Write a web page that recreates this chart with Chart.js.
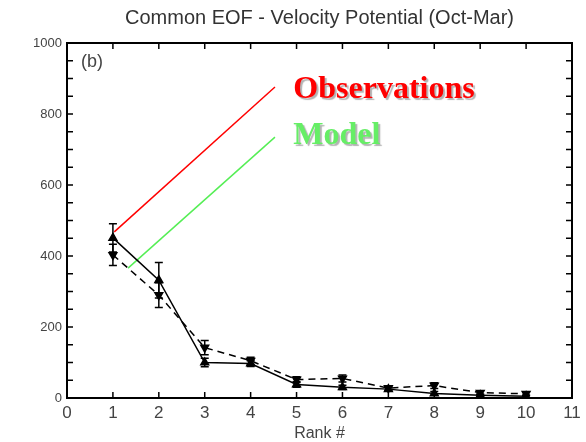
<!DOCTYPE html>
<html>
<head>
<meta charset="utf-8">
<script src="https://cdn.jsdelivr.net/npm/chart.js@4.4.0/dist/chart.umd.min.js"></script>
<style>
html,body{margin:0;padding:0;background:#fff;}
canvas{display:block;}
</style>
</head>
<body>
<canvas id="c" width="586" height="442"></canvas>
<script>
// ---- data ----
const ranks = [1, 2, 3, 4, 5, 6, 7, 8, 9, 10];
const obsValues = [451, 332, 100, 97, 38, 30, 25, 13, 8, 5];
const obsErr = [40, 50, 12, 8, 8, 6, 5, 5, 3, 3];
const modelValues = [403, 290, 142, 105, 52, 55, 28, 35, 15, 12];
const modelErr = [30, 35, 20, 10, 8, 10, 6, 8, 5, 4];
const xTicks = [0, 1, 2, 3, 4, 5, 6, 7, 8, 9, 10, 11];
const yTickLabels = [0, 200, 400, 600, 800, 1000];
// annotation pointer lines (data coordinates)
const obsPointerX = [1.03, 4.53];
const obsPointerY = [468, 876];
const modelPointerX = [1.33, 4.53];
const modelPointerY = [366, 735];

const toXY = (xs, ys) => xs.map((x, i) => ({x: x, y: ys[i]}));

const errorBarPlugin = {
  id: 'errbars',
  afterDatasetsDraw(chart) {
    const {ctx, scales: {x, y}} = chart;
    ctx.save();
    ctx.strokeStyle = '#000';
    ctx.lineWidth = 1.5;
    const draw = (vals, errs) => {
      vals.forEach((v, i) => {
        const px = x.getPixelForValue(ranks[i]);
        const top = y.getPixelForValue(v + errs[i]);
        const bot = y.getPixelForValue(Math.max(0, v - errs[i]));
        ctx.beginPath();
        ctx.moveTo(px, top); ctx.lineTo(px, bot);
        ctx.moveTo(px - 4, top); ctx.lineTo(px + 4, top);
        ctx.moveTo(px - 4, bot); ctx.lineTo(px + 4, bot);
        ctx.stroke();
      });
    };
    draw(obsValues, obsErr);
    draw(modelValues, modelErr);
    ctx.restore();
  }
};

const framePlugin = {
  id: 'frame',
  afterDraw(chart) {
    const {ctx, chartArea: a, scales: {x, y}} = chart;
    ctx.save();
    ctx.strokeStyle = '#000';
    ctx.lineWidth = 2;
    ctx.strokeRect(a.left, a.top, a.right - a.left, a.bottom - a.top);
    ctx.lineWidth = 1.5;
    ctx.beginPath();
    const tl = 6;
    for (let v = 1; v <= 10; v++) {
      const px = x.getPixelForValue(v);
      ctx.moveTo(px, a.bottom); ctx.lineTo(px, a.bottom - tl);
      ctx.moveTo(px, a.top); ctx.lineTo(px, a.top + tl);
    }
    for (let v = 50; v < 1000; v += 50) {
      const py = y.getPixelForValue(v);
      ctx.moveTo(a.left, py); ctx.lineTo(a.left + tl, py);
      ctx.moveTo(a.right, py); ctx.lineTo(a.right - tl, py);
    }
    ctx.stroke();
    // panel label
    ctx.fillStyle = '#444';
    ctx.font = '18px "Liberation Sans", Arial, sans-serif';
    ctx.textBaseline = 'middle';
    ctx.textAlign = 'left';
    ctx.fillText('(b)', a.left + 14, a.top + 19);
    // legend texts
    ctx.font = 'bold 32px "Liberation Serif", "Times New Roman", serif';
    ctx.textBaseline = 'alphabetic';
    ctx.shadowColor = 'rgba(0,0,0,0.3)';
    ctx.shadowOffsetX = 2;
    ctx.shadowOffsetY = 2;
    ctx.shadowBlur = 1;
    ctx.fillStyle = '#ff0000';
    ctx.fillText('Observations', x.getPixelForValue(4.93), y.getPixelForValue(845));
    ctx.fillStyle = '#66ee66';
    ctx.fillText('Model', x.getPixelForValue(4.93), y.getPixelForValue(715));
    ctx.restore();
  }
};

new Chart(document.getElementById('c'), {
  type: 'line',
  data: {
    datasets: [
      {
        label: 'Observations',
        data: toXY(ranks, obsValues),
        borderColor: '#000',
        backgroundColor: '#000',
        borderWidth: 1.5,
        pointStyle: 'triangle',
        pointRadius: 4.5,
        pointBackgroundColor: '#000',
        pointBorderColor: '#000',
        tension: 0
      },
      {
        label: 'Model',
        data: toXY(ranks, modelValues),
        borderColor: '#000',
        backgroundColor: '#000',
        borderWidth: 1.5,
        borderDash: [7, 5],
        pointStyle: 'triangle',
        rotation: 180,
        pointRadius: 4.5,
        pointBackgroundColor: '#000',
        pointBorderColor: '#000',
        tension: 0
      },
      {
        label: 'obs pointer',
        data: toXY(obsPointerX, obsPointerY),
        borderColor: '#ff0000',
        borderWidth: 1.5,
        pointRadius: 0
      },
      {
        label: 'model pointer',
        data: toXY(modelPointerX, modelPointerY),
        borderColor: '#55ee55',
        borderWidth: 1.5,
        pointRadius: 0
      }
    ]
  },
  options: {
    responsive: false,
    devicePixelRatio: 1,
    animation: false,
    layout: {padding: {left: 0, right: 14, top: 0, bottom: 0}},
    plugins: {
      legend: {display: false},
      tooltip: {enabled: false},
      title: {
        display: true,
        fullSize: false,
        text: 'Common EOF - Velocity Potential (Oct-Mar)',
        color: '#333',
        font: {family: '"Liberation Sans", Arial, sans-serif', size: 20, weight: 'normal', lineHeight: 1.2},
        padding: {top: 6, bottom: 13}
      }
    },
    scales: {
      x: {
        type: 'linear',
        min: 0, max: 11,
        afterBuildTicks: (s) => { s.ticks = xTicks.map(v => ({value: v})); },
        afterFit: (s) => { s.height = 44; },
        grid: {display: false, drawTicks: false},
        border: {display: false},
        ticks: {
          color: '#444',
          padding: 5,
          font: {family: '"Liberation Sans", Arial, sans-serif', size: 17},
          autoSkip: false,
          maxRotation: 0,
          callback: (v) => String(v)
        },
        title: {
          display: true,
          text: 'Rank #',
          color: '#444',
          font: {family: '"Liberation Sans", Arial, sans-serif', size: 16},
          padding: {top: 0, bottom: -1}
        }
      },
      y: {
        type: 'linear',
        min: 0, max: 1000,
        afterBuildTicks: (s) => { s.ticks = yTickLabels.map(v => ({value: v})); },
        afterFit: (s) => { s.width = 67; },
        grid: {display: false, drawTicks: false},
        border: {display: false},
        ticks: {
          color: '#444',
          padding: 5,
          font: {family: '"Liberation Sans", Arial, sans-serif', size: 13},
          autoSkip: false,
          callback: (v) => String(v)
        }
      }
    }
  },
  plugins: [errorBarPlugin, framePlugin]
});
</script>
</body>
</html>
